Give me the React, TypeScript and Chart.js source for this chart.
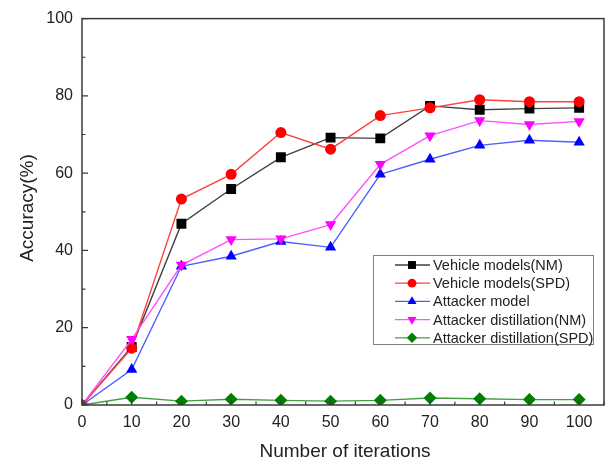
import React, { useEffect, useRef } from "react";
import { Chart, registerables } from "chart.js";

Chart.register(...registerables);

const iterations = [0, 10, 20, 30, 40, 50, 60, 70, 80, 90, 100];
const vehicleNM = [0, 15, 46.9, 55.9, 64.1, 69.2, 69, 77.4, 76.4, 76.7, 76.9];
const vehicleSPD = [0, 14.7, 53.3, 59.7, 70.5, 66.2, 74.9, 76.9, 79, 78.5, 78.5];
const attacker = [0, 9.2, 35.9, 38.5, 42.3, 40.8, 59.7, 63.6, 67.2, 68.5, 68];
const distillNM = [0, 17, 36.2, 42.8, 43, 46.7, 62.3, 69.7, 73.6, 72.6, 73.4];
const distillSPD = [0, 2, 1, 1.5, 1.2, 1, 1.2, 1.8, 1.6, 1.4, 1.4];

const seriesNames = [
  "Vehicle models(NM)",
  "Vehicle models(SPD)",
  "Attacker model",
  "Attacker distillation(NM)",
  "Attacker distillation(SPD)",
];

const FONT = "'Liberation Sans', Arial, sans-serif";

type Style = { line: string; fill: string; shape: string; radius: number; rotation: number };
const styles: Style[] = [
  { line: "#404040", fill: "#000000", shape: "rect", radius: 7, rotation: 0 },
  { line: "#ff4040", fill: "#ff0000", shape: "circle", radius: 5.5, rotation: 0 },
  { line: "#5060ff", fill: "#0000ff", shape: "triangle", radius: 6.5, rotation: 0 },
  { line: "#ff50ff", fill: "#ff00ff", shape: "triangle", radius: 6.5, rotation: 180 },
  { line: "#40a040", fill: "#008000", shape: "rectRot", radius: 6.5, rotation: 0 },
];

function drawMarker(ctx: CanvasRenderingContext2D, st: Style, x: number, y: number, scale: number) {
  const r = st.radius * scale;
  ctx.beginPath();
  if (st.shape === "rect") {
    const s = Math.SQRT1_2 * r;
    ctx.rect(x - s, y - s, 2 * s, 2 * s);
  } else if (st.shape === "circle") {
    ctx.arc(x, y, r, 0, Math.PI * 2);
  } else if (st.shape === "triangle") {
    const dir = st.rotation === 180 ? -1 : 1;
    ctx.moveTo(x, y - dir * r);
    ctx.lineTo(x - r * 0.866, y + dir * r * 0.5);
    ctx.lineTo(x + r * 0.866, y + dir * r * 0.5);
    ctx.closePath();
  } else {
    ctx.moveTo(x, y - r);
    ctx.lineTo(x + r, y);
    ctx.lineTo(x, y + r);
    ctx.lineTo(x - r, y);
    ctx.closePath();
  }
  ctx.fill();
}

const decorPlugin = {
  id: "decor",
  afterDraw(chart: any) {
    const ctx = chart.ctx;
    const { left, right, top, bottom } = chart.chartArea;
    const xs = chart.scales.x;
    const ys = chart.scales.y;
    ctx.save();
    // frame
    ctx.strokeStyle = "#3a3a3a";
    ctx.lineWidth = 1.5;
    ctx.strokeRect(left, top, right - left, bottom - top);
    // inward ticks
    ctx.lineWidth = 1.2;
    ctx.beginPath();
    for (let v = 0; v <= 105; v += 5) {
      const px = xs.getPixelForValue(v);
      const len = v % 10 === 0 ? 6 : 3.5;
      ctx.moveTo(px, bottom);
      ctx.lineTo(px, bottom - len);
    }
    for (let v = 0; v <= 100; v += 10) {
      const py = ys.getPixelForValue(v);
      const len = v % 20 === 0 ? 6 : 3.5;
      ctx.moveTo(left, py);
      ctx.lineTo(left + len, py);
    }
    ctx.stroke();
    // axis titles
    ctx.fillStyle = "#222";
    ctx.font = `19px ${FONT}`;
    ctx.textAlign = "center";
    ctx.textBaseline = "middle";
    ctx.fillText("Number of iterations", 345, 452);
    ctx.save();
    ctx.translate(28, 208);
    ctx.rotate(-Math.PI / 2);
    ctx.fillText("Accuracy(%)", 0, 0);
    ctx.restore();
    // legend
    const lx = 373, ly = 255, lw = 220, lh = 89;
    ctx.fillStyle = "#ffffff";
    ctx.fillRect(lx, ly, lw, lh);
    ctx.strokeStyle = "#808080";
    ctx.lineWidth = 1;
    ctx.strokeRect(lx + 0.5, ly + 0.5, lw, lh);
    ctx.font = `14.5px ${FONT}`;
    ctx.textAlign = "left";
    seriesNames.forEach((name, i) => {
      const y = 265 + i * 18.2;
      const st = styles[i];
      ctx.strokeStyle = st.line;
      ctx.lineWidth = 1.3;
      ctx.beginPath();
      ctx.moveTo(395, y);
      ctx.lineTo(430, y);
      ctx.stroke();
      ctx.fillStyle = st.fill;
      drawMarker(ctx, st, 412, y, 0.8);
      ctx.fillStyle = "#222";
      ctx.fillText(name, 433, y + 1);
    });
    ctx.restore();
  },
};

export default function App() {
  const ref = useRef<HTMLCanvasElement | null>(null);
  useEffect(() => {
    document.body.style.margin = "0";
    const all = [vehicleNM, vehicleSPD, attacker, distillNM, distillSPD];
    const chart = new Chart(ref.current!, {
      type: "line",
      data: {
        datasets: all.map((vals, i) => ({
          label: seriesNames[i],
          data: vals.map((v, k) => ({ x: iterations[k], y: v })),
          borderColor: styles[i].line,
          backgroundColor: styles[i].fill,
          borderWidth: 1.4,
          pointStyle: styles[i].shape as any,
          pointRadius: styles[i].radius,
          pointRotation: styles[i].rotation,
          pointBorderWidth: 0,
          pointBackgroundColor: styles[i].fill,
          pointBorderColor: styles[i].fill,
          tension: 0,
          order: 4 - i,
        })),
      },
      options: {
        animation: false,
        responsive: false,
        events: [],
        layout: { padding: { left: 0, top: 15, right: 5, bottom: 0 } },
        plugins: { legend: { display: false }, tooltip: { enabled: false } },
        scales: {
          x: {
            type: "linear",
            min: 0,
            max: 105,
            grid: { display: false, drawTicks: false },
            border: { display: false },
            ticks: {
              stepSize: 10,
              includeBounds: false,
              padding: 8,
              color: "#222",
              font: { family: FONT, size: 16 },
              maxRotation: 0,
              callback: (v: any) => (Number(v) <= 100 ? String(v) : ""),
            },
            afterFit: (s: any) => {
              s.height = 60;
            },
          },
          y: {
            min: 0,
            max: 100,
            grid: { display: false, drawTicks: false },
            border: { display: false },
            ticks: {
              stepSize: 20,
              padding: 9,
              color: "#222",
              font: { family: FONT, size: 16 },
            },
            afterFit: (s: any) => {
              s.width = 82;
            },
          },
        },
      },
      plugins: [decorPlugin],
    });
    return () => chart.destroy();
  }, []);
  return <canvas ref={ref} width={611} height={465} style={{ display: "block" }} />;
}
